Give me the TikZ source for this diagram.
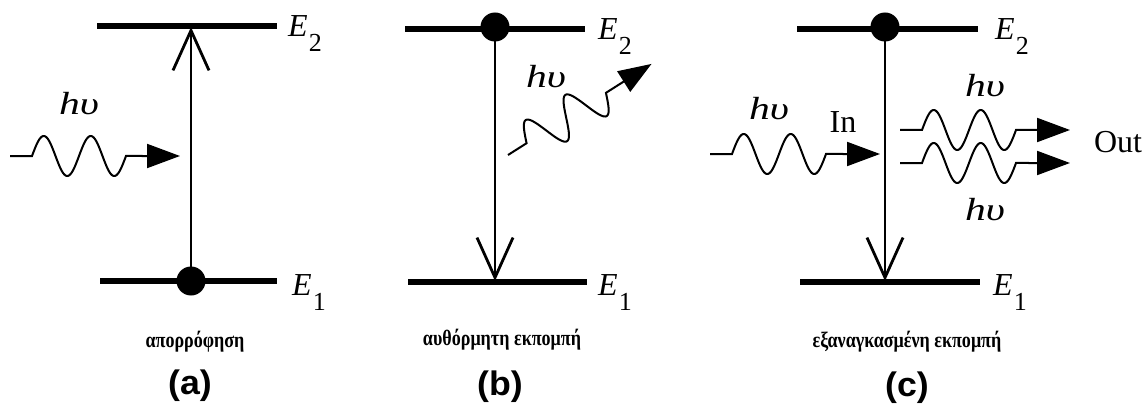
\documentclass[tikz,border=0pt]{standalone}
\usepackage{fontspec}
\setmainfont{Liberation Serif}
\setsansfont{Liberation Sans}
\usetikzlibrary{arrows.meta}
\newcommand\Elab[1]{\textit{E}\kern1pt\raisebox{-15pt}{\fontsize{26}{26}\selectfont #1}}
\newcommand\hvtext{\scalebox{1.3}[1]{hυ}}
\newcommand\captxt[1]{\scalebox{0.82}[1]{#1}}
\newcommand\lettxt[1]{\scalebox{1.05}[1]{#1}}
\tikzset{
  level/.style={line width=6pt},
  trans/.style={line width=2.8pt,-{Straight Barb[length=40pt,width=36pt]}},
  wave/.style={line width=2pt,-{Triangle[length=33pt,width=24pt]}},
  dot/.style={circle,fill=black,inner sep=0pt,minimum size=29pt},
  elab/.style={anchor=base west,inner sep=0pt,font=\fontsize{32}{32}\selectfont},
  hv/.style={anchor=base,inner sep=0pt,font=\fontsize{32}{32}\selectfont\itshape},
  plain/.style={anchor=base,inner sep=0pt,font=\fontsize{32}{32}\selectfont},
  capt/.style={anchor=base,inner sep=0pt,font=\fontsize{22}{22}\selectfont\bfseries},
  letter/.style={anchor=center,inner sep=0pt,font=\fontsize{34}{34}\selectfont\sffamily\bfseries},
  photon/.pic={
    \draw[wave] (0,0) -- (22,0) -- plot[domain=0:94,samples=100,smooth] ({22+\x},{-20*sin(7.6596*\x)}) -- (170,0);
  }
}
\begin{document}
\begin{tikzpicture}[x=1pt,y=-1pt]
\useasboundingbox (0,0) rectangle (1148,409);
% ---------- (a) absorption ----------
\coordinate (a2l) at (97,26);  \coordinate (a2r) at (277,26);
\coordinate (a1l) at (100,281); \coordinate (a1r) at (277,281);
\draw[level] (a2l) -- (a2r);
\draw[level] (a1l) -- (a1r);
\node[dot] (adot) at (191,281) {};
\coordinate (atop) at (191,27);
\draw[trans] (adot.center) -- (atop);
\node[elab] (aE2) at (288,37) {\Elab{2}};
\node[elab] (aE1) at (292,295) {\Elab{1}};
\coordinate (aph) at (10,156);
\pic at (aph) {photon};
\node[hv] (ahv) at (79,115) {\hvtext};
\node[capt] (acap) at (195,347) {\captxt{απορρόφηση}};
\node[letter] (alet) at (190,386) {\lettxt{(a)}};
% ---------- (b) spontaneous emission ----------
\coordinate (b2l) at (405,29);  \coordinate (b2r) at (585,29);
\coordinate (b1l) at (408,282); \coordinate (b1r) at (587,282);
\draw[level] (b2l) -- (b2r);
\draw[level] (b1l) -- (b1r);
\node[dot] (bdot) at (495,27) {};
\coordinate (bbot) at (495,281);
\draw[trans] (bdot.center) -- (bbot);
\node[elab] (bE2) at (598,40) {\Elab{2}};
\node[elab] (bE1) at (598,295) {\Elab{1}};
\coordinate (bph) at (508,155);
\pic[rotate=32.4] at (bph) {photon};
\node[hv] (bhv) at (546,88) {\hvtext};
\node[capt] (bcap) at (502,345) {\captxt{αυθόρμητη εκπομπή}};
\node[letter] (blet) at (500,387) {\lettxt{(b)}};
% ---------- (c) stimulated emission ----------
\coordinate (c2l) at (797,29);  \coordinate (c2r) at (978,29);
\coordinate (c1l) at (800,282); \coordinate (c1r) at (980,282);
\draw[level] (c2l) -- (c2r);
\draw[level] (c1l) -- (c1r);
\node[dot] (cdot) at (885,27) {};
\coordinate (cbot) at (885,281);
\draw[trans] (cdot.center) -- (cbot);
\node[elab] (cE2) at (995,40) {\Elab{2}};
\node[elab] (cE1) at (993,295) {\Elab{1}};
\coordinate (cin) at (710,154);
\pic at (cin) {photon};
\coordinate (cout1) at (900,130);
\coordinate (cout2) at (900,163);
\pic at (cout1) {photon};
\pic at (cout2) {photon};
\node[hv] (cinhv) at (769,120) {\hvtext};
\node[plain] (cinlab) at (843,132) {In};
\node[hv] (cohv1) at (985,97) {\hvtext};
\node[hv] (cohv2) at (985,220) {\hvtext};
\node[plain] (coutlab) at (1118,153) {Out};
\node[capt] (ccap) at (907,347) {\captxt{εξαναγκασμένη εκπομπή}};
\node[letter] (clet) at (907,388) {\lettxt{(c)}};
\end{tikzpicture}
\end{document}
